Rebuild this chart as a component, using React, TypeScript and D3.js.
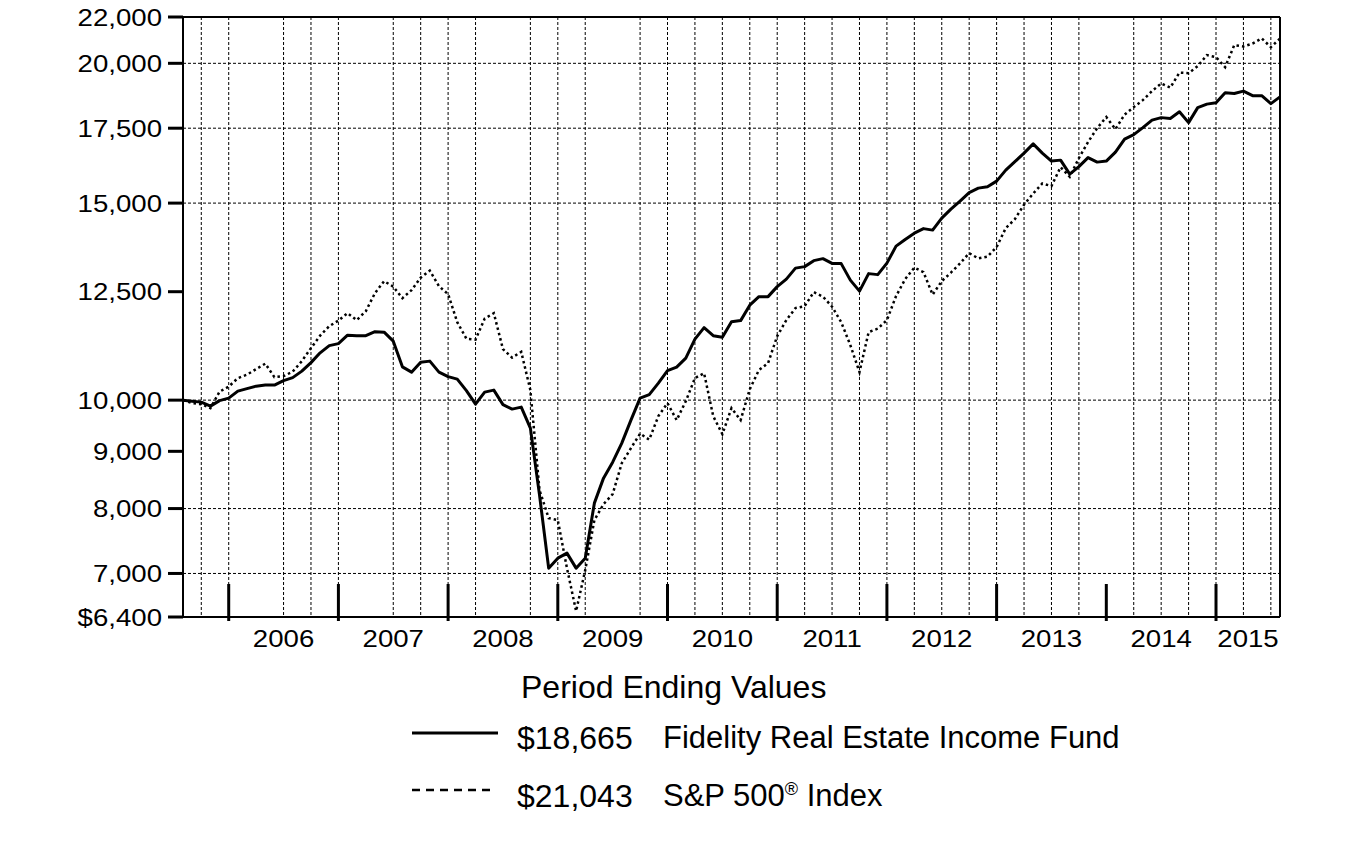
import React from 'react';
import * as d3 from 'd3';

// Monthly period-ending values, Jul 2005 .. Jul 2015 (121 months)
const fundValues = [
  10000, 9979, 9959, 9877, 9990, 10041, 10187, 10240, 10292, 10314, 10314, 10410,
  10474, 10615, 10802, 11022, 11187, 11233, 11431, 11419, 11419, 11514, 11502, 11291,
  10709, 10593, 10813, 10836, 10593, 10496, 10442, 10197, 9918, 10166, 10208, 9908,
  9817, 9857, 9440, 8224, 7077, 7224, 7299, 7077, 7224, 8090, 8517, 8802,
  9153, 9597, 10041, 10114, 10356, 10626, 10703, 10903, 11338, 11609, 11419, 11384,
  11753, 11778, 12159, 12374, 12374, 12631, 12828, 13121, 13162, 13325, 13380, 13249,
  13244, 12801, 12515, 12974, 12947, 13257, 13729, 13920, 14101, 14233, 14189, 14544,
  14815, 15061, 15327, 15470, 15511, 15694, 16054, 16337, 16625, 16946, 16625, 16354,
  16387, 15922, 16170, 16472, 16320, 16354, 16659, 17111, 17270, 17521, 17793, 17885,
  17856, 18100, 17702, 18257, 18389, 18438, 18822, 18798, 18888, 18713, 18713, 18408,
  18665,
];

const spValues = [
  10000, 9938, 9918, 9837, 10176, 10282, 10463, 10539, 10659, 10780, 10485, 10506,
  10604, 10836, 11130, 11419, 11645, 11778, 11961, 11790, 12010, 12464, 12775, 12631,
  12336, 12540, 12867, 13054, 12644, 12438, 11741, 11349, 11326, 11826, 11961, 11107,
  10914, 11045, 10208, 8309, 7844, 7812, 7077, 6478, 7048, 7812, 8073, 8241,
  8784, 9059, 9334, 9219, 9676, 9938, 9597, 9979, 10463, 10571, 9676, 9324,
  9837, 9597, 10229, 10637, 10791, 11408, 11790, 12085, 12134, 12489, 12374, 12122,
  11741, 11198, 10593, 11502, 11585, 11790, 12387, 12828, 13135, 13014, 12425, 12775,
  13000, 13249, 13533, 13386, 13436, 13701, 14247, 14514, 14953, 15296, 15620, 15534,
  16153, 15834, 16455, 17006, 17503, 17904, 17467, 17996, 18276, 18541, 18888, 19189,
  19024, 19621, 19600, 19885, 20340, 20256, 19844, 20763, 20707, 20827, 21051, 20678,
  21043,
];

const yTickValues = [6400, 7000, 8000, 9000, 10000, 12500, 15000, 17500, 20000, 22000];
const yTickLabels = ['$6,400', '7,000', '8,000', '9,000', '10,000', '12,500', '15,000', '17,500', '20,000', '22,000'];
const yGridValues = [7000, 8000, 10000, 15000, 17500, 20000];

// month indices (0 = Jul 2005)
const yearTickMonths = [5, 17, 29, 41, 53, 65, 77, 89, 101, 113];
const yearLabels = ['2006', '2007', '2008', '2009', '2010', '2011', '2012', '2013', '2014', '2015'];
const xGridMonths = [2, 5, 11, 14, 17, 23, 26, 29, 32, 38, 41, 44, 50, 53, 56, 59, 62, 65, 68, 71,
  74, 77, 80, 83, 86, 89, 92, 95, 98, 104, 107, 110, 113, 116, 119];

const legendTitle = 'Period Ending Values';
const seriesNames = ['Fidelity Real Estate Income Fund', 'S&P 500'];
const endLabels = ['$18,665', '$21,043'];

const FONT = "'Liberation Sans', Arial, Helvetica, sans-serif";

export default function App() {
  const W = 1357;
  const H = 845;
  const left = 183, right = 1280, top = 17, bottom = 617;
  const lastIdx = fundValues.length - 1;

  const x = d3.scaleLinear().domain([0, lastIdx]).range([left, right]);
  const y = d3.scaleLog().domain([6400, 22000]).range([bottom, top]);

  const line = d3.line<number>().x((_, i) => x(i)).y((d) => y(d));

  const yearCenters = yearTickMonths.map((m, i) => {
    const next = i + 1 < yearTickMonths.length ? yearTickMonths[i + 1] : lastIdx;
    return (x(m) + x(next)) / 2;
  });

  return (
    <svg width={W} height={H} style={{ position: 'absolute', left: 0, top: 0, background: '#fff' }}
      fontFamily={FONT}>
      <rect x={0} y={0} width={W} height={H} fill="#fff" />
      {/* grid */}
      <g stroke="#000" strokeWidth={1} strokeDasharray="3,2" fill="none">
        {yGridValues.map((v) => (
          <line key={'hg' + v} x1={left} x2={right} y1={y(v)} y2={y(v)} />
        ))}
        {xGridMonths.map((m) => (
          <line key={'vg' + m} x1={x(m)} x2={x(m)} y1={top} y2={bottom} />
        ))}
      </g>
      {/* frame */}
      <g stroke="#000" fill="none">
        <line x1={left} x2={right} y1={top} y2={top} strokeWidth={2} />
        <line x1={right} x2={right} y1={top} y2={bottom} strokeWidth={2} />
        <line x1={left} x2={left} y1={top} y2={bottom} strokeWidth={2} />
        <line x1={left} x2={right} y1={bottom} y2={bottom} strokeWidth={2} />
      </g>
      {/* y ticks & labels */}
      {yTickValues.map((v, i) => (
        <g key={'yt' + v}>
          <line x1={168} x2={left} y1={y(v)} y2={y(v)} stroke="#000" strokeWidth={3} />
          <text transform={`translate(162,${y(v) + 8.5}) scale(1.15,1)`} textAnchor="end" fontSize={24} fill="#000">
            {yTickLabels[i]}
          </text>
        </g>
      ))}
      {/* year ticks & labels */}
      {yearTickMonths.map((m) => (
        <line key={'xt' + m} x1={x(m)} x2={x(m)} y1={584} y2={621} stroke="#000" strokeWidth={3} />
      ))}
      {yearLabels.map((lab, i) => (
        <text key={'xl' + lab} transform={`translate(${yearCenters[i]},647) scale(1.15,1)`} textAnchor="middle"
          fontSize={24} fill="#000">{lab}</text>
      ))}
      {/* series */}
      <path d={line(spValues) || ''} fill="none" stroke="#000" strokeWidth={2.5} strokeDasharray="2.5,3" />
      <path d={line(fundValues) || ''} fill="none" stroke="#000" strokeWidth={3} strokeLinejoin="round" />
      {/* legend */}
      <text x={521} y={698} fontSize={32} fill="#000">{legendTitle}</text>
      <line x1={412} x2={498} y1={733} y2={733} stroke="#000" strokeWidth={3} />
      <text x={517} y={749} fontSize={32} fill="#000">{endLabels[0]}</text>
      <text x={663} y={748} fontSize={31} fill="#000">{seriesNames[0]}</text>
      <line x1={412} x2={496} y1={790} y2={790} stroke="#000" strokeWidth={2.5} strokeDasharray="8,6" />
      <text x={517} y={807} fontSize={32} fill="#000">{endLabels[1]}</text>
      <text x={663} y={806} fontSize={31} fill="#000">
        {seriesNames[1]}
        <tspan fontSize={18} dy={-11}>®</tspan>
        <tspan dy={11}> Index</tspan>
      </text>
    </svg>
  );
}
